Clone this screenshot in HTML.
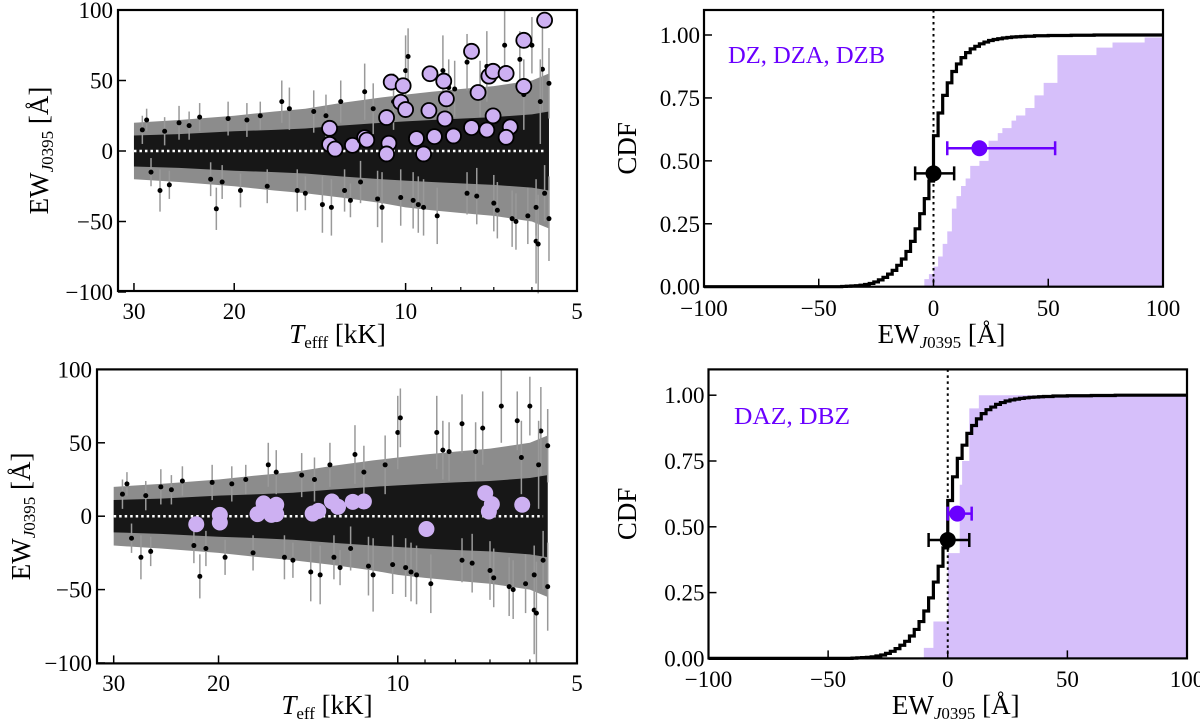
<!DOCTYPE html>
<html><head><meta charset="utf-8"><style>
html,body{margin:0;padding:0;background:#fff;}
svg{display:block;font-family:"Liberation Serif",serif;}
</style></head><body>
<svg id="fig" width="1200" height="722" viewBox="0 0 1200 722" xmlns="http://www.w3.org/2000/svg"></svg>
<script>
// ---- shared background sample (same in both scatter panels) ----
const bandTeff = [30, 25, 20, 17, 15, 13, 11, 10, 9, 8, 7, 6, 5.6];
const bandErrHi = [20, 22, 25, 28, 30, 34, 38, 40, 42, 44, 46, 50, 55];
const bandErrLo = [-20, -22, -25, -28, -30, -33, -37, -40, -42, -44, -46, -50, -55];
const bandCoreHi = [11, 12, 14, 15, 16, 18, 20, 21, 22, 23, 24, 26, 28];
const bandCoreLo = [-11, -12, -14, -15, -16, -18, -20, -21, -22, -23, -24, -26, -28];
const outTeff = [29, 28, 27, 25, 22, 21.5, 19.5, 18, 16.5, 15, 14, 13.5, 13, 12, 11.8, 11, 10.2, 10, 9.9, 9.3, 8.8, 8.6, 7.8, 7.5, 7.2, 7, 6.7, 6.5, 6.3, 6.1, 6.0, 5.9, 5.85, 5.75, 5.7, 5.6, 5.6, 20.5, 24, 12.5, 9.5, 8.2, 7.8, 6.4, 5.9, 28.5, 26, 23, 19, 17.5, 16, 14.5, 12.8, 11.4, 10.5, 9.7, 8.4, 7.4, 6.9, 6.2, 5.8, 26.5, 21, 15.5, 13.8, 11.2];
const outEW = [15, -15, -28, 20, -20, -41, -28, 25, 35, -30, -38, -40, 35, -22, 42, -40, -33, 57, 67, -40, -46, 57, 63, -32, 60, -37, 75, -48, 65, -46, 75, -64, -66, 58, -30, -48, 48, 23, 18, -35, -38, 44, -30, -50, -40, 22, -24, 24, 22, -25, 30, 28, -28, 30, 35, -35, 45, 44, -42, 40, 35, 14, -22, -28, 25, -34];
const outErr = [10, 10, 15, 12, 12, 15, 12, 10, 15, 12, 20, 20, 15, 15, 20, 25, 20, 25, 20, 20, 20, 25, 20, 20, 25, 20, 25, 20, 20, 20, 20, 30, 35, 30, 20, 30, 25, 12, 10, 12, 20, 20, 15, 20, 20, 8, 10, 10, 12, 12, 15, 15, 15, 18, 20, 20, 20, 20, 20, 25, 30, 10, 12, 15, 15, 20];
// ---- metal-polluted samples ----
const dzTeff = [5.7, 6.2, 7.66, 10.6, 10.1, 9.06, 8.57, 8.48, 8.53, 10.2, 10.0, 10.8, 9.1, 7.46, 7.14, 7.02, 6.66, 6.2, 7.02, 7.66, 7.2, 6.55, 6.66, 8.24, 8.9, 9.57, 13.6, 13.6, 13.3, 12.4, 11.8, 11.7, 10.7, 10.8, 9.3];
const dzEW = [92.8, 78.5, 70.7, 48.9, 46.3, 54.8, 49.6, 37, 22.8, 34.6, 29.4, 23.7, 28.7, 41.5, 53.1, 56.5, 55, 45.8, 24.9, 16.6, 14.9, 17.1, 9.7, 10.7, 10.2, 8.8, 16.1, 4.7, 1.4, 4, 9.5, 7.8, 5.5, -2.1, -2.1];
const dazTeff = [21.8, 19.9, 19.9, 17.2, 16.8, 16.3, 16.0, 16.0, 13.9, 13.6, 12.9, 12.6, 11.9, 11.4, 8.95, 7.13, 7.03, 6.95, 6.18];
const dazEW = [-5.5, -4.3, 0.9, 1.4, 8.7, 0.9, 7.8, 1.4, 1.8, 3.6, 10, 6.4, 9.8, 10, -8.7, 15.7, 3.2, 8.2, 7.8];
// ---- CDFs ----
const refEdges = [-40,-38,-36,-34,-32,-30,-28,-26,-24,-22,-20,-18,-16,-14,-12,-10,-8,-6,-4,-2,0,2,4,6,8,10,12,14,16,18,20,22,24,26,28,30,32,34,36,38,40,44,50,60,70];
const refCdf = [0.001,0.002,0.003,0.004,0.006,0.009,0.013,0.019,0.027,0.037,0.05,0.065,0.085,0.11,0.14,0.18,0.23,0.29,0.35,0.42,0.60,0.69,0.76,0.81,0.855,0.885,0.91,0.93,0.945,0.955,0.965,0.972,0.978,0.982,0.985,0.988,0.99,0.992,0.993,0.994,0.995,0.997,0.998,0.999,1.0];
const dzEdges = [-4,-2,0,2,4,6,8,10,12,14,16,20,24,28,30,34,36,40,44,48,54,62,71,78,92];
const dzCdf = [0.03,0.05,0.08,0.12,0.17,0.22,0.31,0.36,0.40,0.43,0.48,0.50,0.58,0.61,0.63,0.66,0.68,0.71,0.76,0.81,0.92,0.92,0.95,0.97,0.99];
const dazEdges = [-10,-6,0,5,6,9,13];
const dazCdf = [0.04,0.14,0.40,0.66,0.75,0.95,1.0];
const sumRef = [0, 0.45, -8, 9];
const sumDZ = [20, 0.55, 6, 53];
const sumDAZ = [4, 0.55, 0, 10];
const yTicksEW = [100, 50, 0, -50, -100];
const xTicksT = [30, 20, 10, 5];
const xMinorT = [9, 8, 7, 6];
const xTicksEW = [-100, -50, 0, 50, 100];
const yTicksCdf = [0, 0.25, 0.5, 0.75, 1.0];
const yTickCdfLabels = ["0.00", "0.25", "0.50", "0.75", "1.00"];

const NS = "http://www.w3.org/2000/svg";
const svg = document.getElementById("fig");
function mk(tag, attrs, parent) {
  const e = document.createElementNS(NS, tag);
  for (const k in attrs) e.setAttribute(k, attrs[k]);
  (parent || svg).appendChild(e);
  return e;
}
const PURPLE = "#6a00ff", LAV = "#d6bffa", DOT = "#cdb0f2";

function scatterPanel(F, pts, ptsEW, edge, label, name) {
  const g = mk("g", {});
  
  
  const lT5 = Math.log10(5), lTm = Math.log10(32);
  const X = t => F.r - (Math.log10(t) - lT5) / (lTm - lT5) * (F.r - F.l);
  const Y = v => F.y0 - v * (F.y0 - F.t) / 100;
  let d = "M" + bandTeff.map((t, i) => X(t) + "," + Y(bandErrHi[i])).join("L");
  d += "L" + bandTeff.slice().reverse().map((t, i) => X(t) + "," + Y(bandErrLo[bandTeff.length - 1 - i])).join("L") + "Z";
  const band = mk("path", {d: d, fill: "#8c8c8c"}, g);
  
  
  let c = "M" + bandTeff.map((t, i) => X(t) + "," + Y(bandCoreHi[i])).join("L");
  c += "L" + bandTeff.slice().reverse().map((t, i) => X(t) + "," + Y(bandCoreLo[bandTeff.length - 1 - i])).join("L") + "Z";
  const core = mk("path", {d: c, fill: "#0a0a0a", opacity: 0.9}, g);
  
  
  outTeff.forEach((t, i) => {
    const l = mk("line", {x1: X(t), x2: X(t), y1: Y(outEW[i] - outErr[i]), y2: Y(outEW[i] + outErr[i]), stroke: "#999", "stroke-width": 1.5}, g);
    
    
    const p = mk("circle", {cx: X(t), cy: Y(outEW[i]), r: 2.5, fill: "#000"}, g);
    
    
  });
  const zl = mk("line", {x1: X(30), x2: X(5.7), y1: Y(0), y2: Y(0), stroke: "#fff", "stroke-width": 2.5, "stroke-dasharray": "2.5,3"}, g);
  
  
  pts.forEach((t, i) => {
    const p = mk("circle", {cx: X(t), cy: Y(ptsEW[i]), r: edge ? 7.5 : 8, fill: DOT, stroke: edge ? "#000" : "none", "stroke-width": 1.8}, g);
    
    
  });
  const fr = mk("rect", {x: F.l, y: F.t, width: F.r - F.l, height: F.b - F.t, fill: "none", stroke: "#000", "stroke-width": 2.2}, g);
  
  
  yTicksEW.forEach(v => {
    const tk = mk("line", {x1: F.l, x2: F.l + 8, y1: Y(v), y2: Y(v), stroke: "#000", "stroke-width": 1.5}, g);
    
    
    const tx = mk("text", {x: F.l - 5, y: Y(v) + 8, "text-anchor": "end", "font-size": 23}, g);
    tx.textContent = v < 0 ? "\u2212" + (-v) : String(v);
    
    
  });
  xTicksT.forEach(v => {
    const tk = mk("line", {x1: X(v), x2: X(v), y1: F.b, y2: F.b - 8, stroke: "#000", "stroke-width": 1.5}, g);
    
    
    const tx = mk("text", {x: X(v), y: F.xl, "text-anchor": "middle", "font-size": 23}, g);
    tx.textContent = String(v);
    
    
  });
  xMinorT.forEach(v => {
    const tk = mk("line", {x1: X(v), x2: X(v), y1: F.b, y2: F.b - 4, stroke: "#000", "stroke-width": 1.2}, g);
    
    
  });
  const yt = mk("text", {x: 0, y: 0, "text-anchor": "middle", "font-size": 27, transform: "translate(" + F.ytx + "," + ((F.t + F.b) / 2) + ") rotate(-90)"}, g);
  yt.innerHTML = 'EW<tspan font-size="17" font-style="italic" dy="5">J</tspan><tspan font-size="17" dy="0">0395</tspan><tspan dy="-5"> [Å]</tspan>';
  
  
  const xt = mk("text", {x: (F.l + F.r) / 2 - 10, y: F.xt, "text-anchor": "middle", "font-size": 27}, g);
  xt.innerHTML = '<tspan font-style="italic">T</tspan><tspan font-size="17" dy="5">' + label + '</tspan><tspan dy="-5"> [kK]</tspan>';
  
  
}

function cdfPanel(F, edges, cdf, sum, text, textX, textY, textW, name) {
  const g = mk("g", {});
  
  
  const X = v => F.x0 + v * (F.r - F.l) / 200;
  const Y = v => F.b - v * (F.b - F.y1);
  let d = "M" + X(edges[0]) + "," + Y(0);
  edges.forEach((e, i) => { d += "L" + X(e) + "," + (i ? Y(cdf[i - 1]) : Y(0)) + "L" + X(e) + "," + Y(cdf[i]); });
  d += "L" + X(100) + "," + Y(cdf[cdf.length - 1]) + "L" + X(100) + "," + Y(0) + "Z";
  const fill = mk("path", {d: d, fill: LAV}, g);
  
  
  const zl = mk("line", {x1: X(0), x2: X(0), y1: F.t, y2: F.b, stroke: "#000", "stroke-width": 2, "stroke-dasharray": "2.5,3.5"}, g);
  
  
  let s = "M" + X(-100) + "," + Y(0);
  refEdges.forEach((e, i) => { s += "L" + X(e) + "," + (i ? Y(refCdf[i - 1]) : Y(0)) + "L" + X(e) + "," + Y(refCdf[i]); });
  s += "L" + X(100) + "," + Y(refCdf[refCdf.length - 1]);
  const ln = mk("path", {d: s, fill: "none", stroke: "#000", "stroke-width": 3.2}, g);
  
  
  [[sumRef, "#000", 'reference-median'], [sum, PURPLE, 'polluted-median']].forEach(([m, col, nm]) => {
    const e = mk("path", {d: "M" + X(m[2]) + "," + Y(m[1]) + "H" + X(m[3]) + "M" + X(m[2]) + "," + (Y(m[1]) - 7) + "v14M" + X(m[3]) + "," + (Y(m[1]) - 7) + "v14", stroke: col, "stroke-width": 2.5, fill: "none"}, g);
    
    
    const c = mk("circle", {cx: X(m[0]), cy: Y(m[1]), r: 8, fill: col}, g);
    
    
  });
  const fr = mk("rect", {x: F.l, y: F.t, width: F.r - F.l, height: F.b - F.t, fill: "none", stroke: "#000", "stroke-width": 2.2}, g);
  
  
  yTicksCdf.forEach((v, i) => {
    const tk = mk("line", {x1: F.l, x2: F.l + 8, y1: Y(v), y2: Y(v), stroke: "#000", "stroke-width": 1.5}, g);
    
    
    const tx = mk("text", {x: F.l - 4, y: Y(v) + 8, "text-anchor": "end", "font-size": 23}, g);
    tx.textContent = yTickCdfLabels[i];
    
    
  });
  xTicksEW.forEach(v => {
    const tk = mk("line", {x1: X(v), x2: X(v), y1: F.b, y2: F.b - 8, stroke: "#000", "stroke-width": 1.5}, g);
    
    
    const tx = mk("text", {x: X(v), y: F.xl, "text-anchor": "middle", "font-size": 23}, g);
    tx.textContent = v < 0 ? "\u2212" + (-v) : String(v);
    
    
  });
  const lab = mk("text", {x: textX, y: textY, "font-size": 24, fill: PURPLE, textLength: textW, lengthAdjust: "spacingAndGlyphs"}, g);
  lab.textContent = text;
  
  
  const yt = mk("text", {x: 0, y: 0, "text-anchor": "middle", "font-size": 27, transform: "translate(" + F.ytx + "," + ((F.t + F.b) / 2) + ") rotate(-90)"}, g);
  yt.textContent = "CDF";
  
  
  const xt = mk("text", {x: (F.l + F.r) / 2 + 8, y: F.xt, "text-anchor": "middle", "font-size": 27}, g);
  xt.innerHTML = 'EW<tspan font-size="17" font-style="italic" dy="5">J</tspan><tspan font-size="17">0395</tspan><tspan dy="-5"> [Å]</tspan>';
  
  
}

scatterPanel({l: 118, r: 577, t: 10, b: 291, y0: 151, xl: 319, xt: 343, ytx: 48}, dzTeff, dzEW, true, "efff", "scatter-dz-panel");
scatterPanel({l: 97, r: 577, t: 369.4, b: 663.4, y0: 516.2, xl: 691, xt: 714, ytx: 30}, dazTeff, dazEW, false, "eff", "scatter-daz-panel");
cdfPanel({l: 704, r: 1163, t: 10, b: 286.7, y1: 35, x0: 933.5, xl: 316, xt: 343, ytx: 636}, dzEdges, dzCdf, sumDZ, "DZ, DZA, DZB", 728, 63, 157, "cdf-dz-panel");
cdfPanel({l: 708.5, r: 1187, t: 369.4, b: 658.4, y1: 395.2, x0: 947.75, xl: 687, xt: 714, ytx: 636}, dazEdges, dazCdf, sumDAZ, "DAZ, DBZ", 734, 424, 116, "cdf-daz-panel");
</script>
</body></html>
